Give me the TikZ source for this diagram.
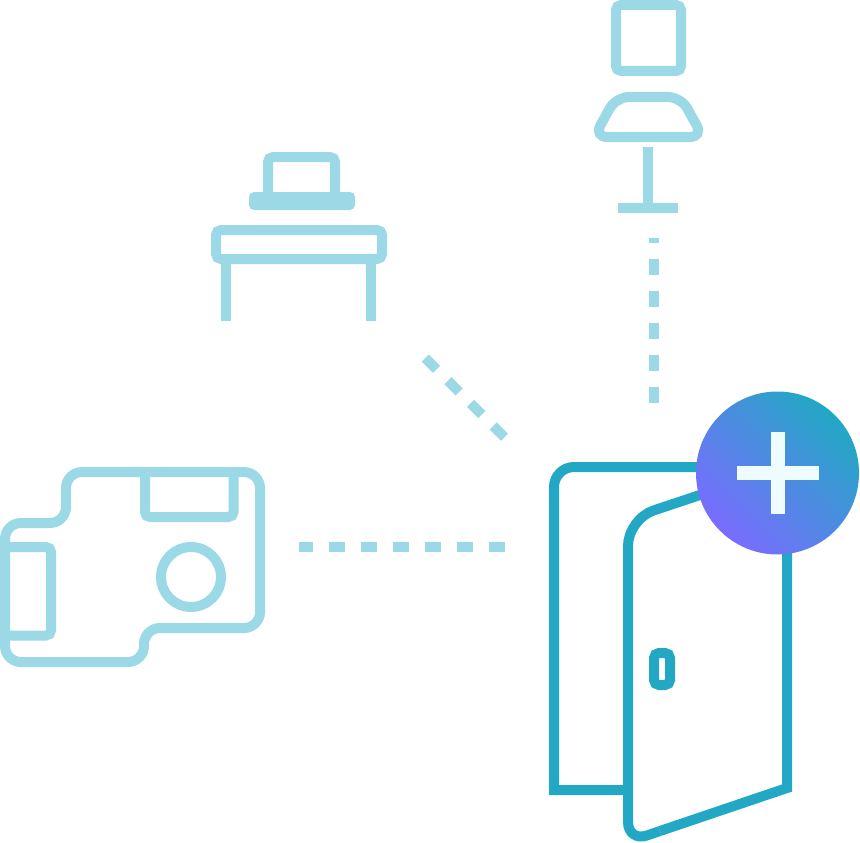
\documentclass[tikz,border=0pt]{standalone}
\definecolor{pale}{HTML}{9CD9E6}
\definecolor{teal}{HTML}{22A8C5}
\definecolor{violet}{HTML}{7A6CFF}
\definecolor{ice}{HTML}{EEFCFF}
\tikzset{
  paleline/.style={draw=pale,line width=10pt},
  doorline/.style={draw=teal,line width=10pt},
  dashline/.style={draw=pale,line width=10pt,dash pattern=on 16pt off 16pt},
}
\begin{document}
\begin{tikzpicture}[x=1pt,y=-1pt]
\useasboundingbox (0,0) rectangle (860,843);
% lamp
\draw[paleline,rounded corners=5pt] (616,5) rectangle (681,71);
\draw[paleline,rounded corners=13pt] (616,97) -- (681,97) -- (703,137) -- (594,137) -- cycle;
\draw[paleline] (648,147) -- (648,208);
\draw[paleline] (618,208) -- (678,208);
% laptop and desk
\draw[paleline,rounded corners=5pt] (268,196) -- (268,157) -- (335,157) -- (335,196);
\fill[pale,rounded corners=5pt] (249,192) rectangle (355,210);
\draw[paleline,rounded corners=5pt] (216,230) rectangle (382,259);
\draw[paleline] (226,259) -- (226,321);
\draw[paleline] (371,259) -- (371,321);
% camera
\draw[paleline,rounded corners=5pt] (145,472) -- (145,517) -- (233.5,517) -- (233.5,472);
\draw[paleline,rounded corners=5pt] (5,547) -- (51,547) -- (51,635.5) -- (5,635.5);
\draw[paleline] (191,577) circle (30);
\draw[paleline,rounded corners=16pt] (100,472) -- (260,472) -- (260,628) -- (144,628) -- (144,662) -- (5,662) -- (5,523) -- (66,523) -- (66,472) -- cycle;
% dashes
\draw[dashline,dash phase=2pt] (299,547) -- (505,547);
\draw[dashline,dash phase=11pt] (654,238) -- (654,403);
\draw[dashline] (425.3,358) -- (504.7,437.4);
% door
\draw[doorline,line join=miter] (700,467) -- (574,467) arc[start angle=270,end angle=180,radius=20] -- (554,790) -- (630,790);
\draw[doorline,rounded corners=27pt] (700,495) -- (628,519) -- (628,680);
\draw[doorline,rounded corners=20pt] (628,680) -- (628,842) -- (660,831);
\draw[doorline,line join=miter] (660,831) -- (787,788) -- (787,540);
\draw[doorline,rounded corners=5pt] (654,653) rectangle (670,685);
% plus badge
\shade[bottom color=violet,top color=teal,shading angle=-45] (777.5,473) circle (81.5);
\fill[ice] (770.7,432) rectangle (785,514);
\fill[ice] (736.7,466) rectangle (818.7,480);
\end{tikzpicture}
\end{document}
